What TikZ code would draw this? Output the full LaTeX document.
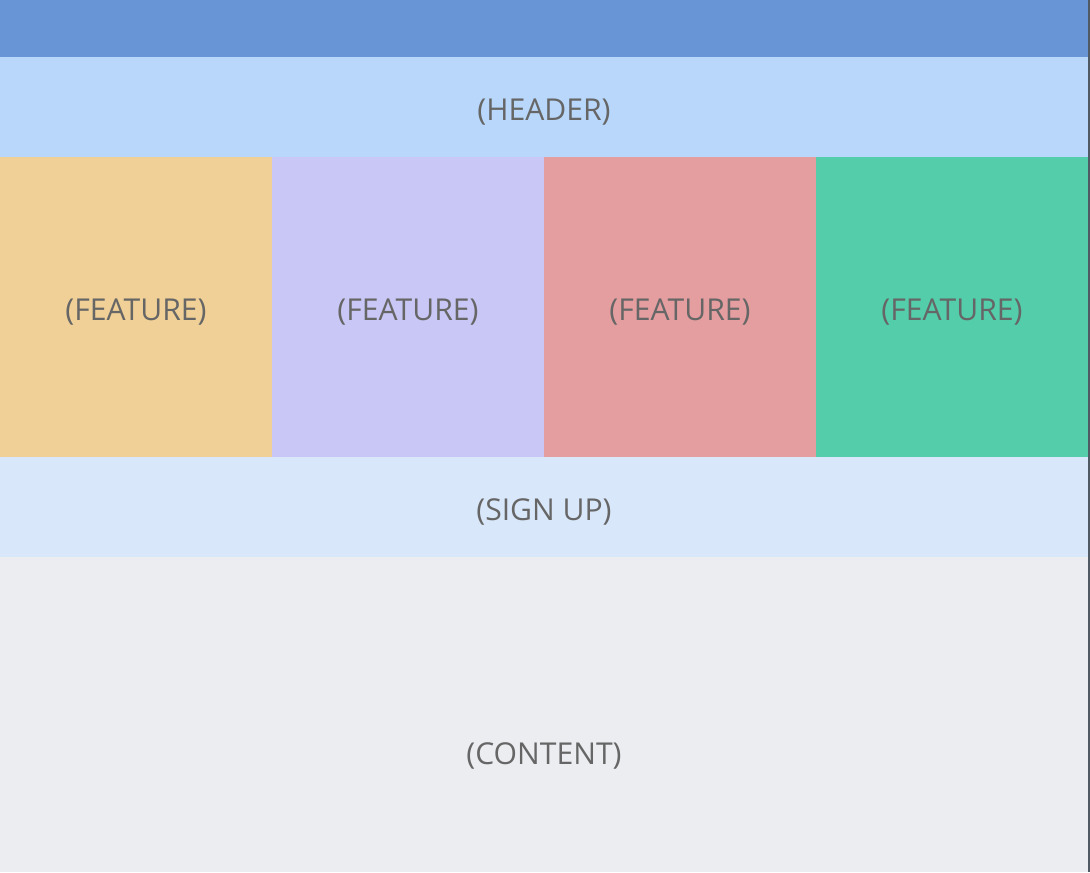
\documentclass[tikz,border=0pt]{standalone}
\usepackage{fontspec}
\setmainfont{Open Sans}
\usepackage{xcolor}
\definecolor{cTop}{HTML}{6795D6}
\definecolor{cHead}{HTML}{B8D7FA}
\definecolor{cFeatA}{HTML}{F0D096}
\definecolor{cFeatB}{HTML}{C8C7F5}
\definecolor{cFeatC}{HTML}{E59EA0}
\definecolor{cFeatD}{HTML}{53CDAA}
\definecolor{cSign}{HTML}{D8E7FA}
\definecolor{cBody}{HTML}{EBEDF1}
\definecolor{cText}{HTML}{666666}
\definecolor{cEdge}{HTML}{505A64}
\usepackage{tikz}
\usetikzlibrary{positioning}
\tikzset{
  block/.style={inner sep=0pt,outer sep=0pt,minimum width=816pt,
    text=cText,font=\fontsize{22.6}{26}\selectfont,
    text height=20.6pt,text depth=0pt},
  block-feat/.style={block,minimum width=204pt,minimum height=225pt},
}
\begin{document}
\begin{tikzpicture}[node distance=0pt]
  \useasboundingbox (0,0) rectangle (817.5pt,-654pt);
  % page strips, top to bottom
  \node[block,fill=cTop,minimum height=42.75pt,below right=0pt of {(0,0)}] (top) {};
  \node[block,fill=cHead,minimum height=75pt,below=of top] (header) {(HEADER)};
  \node[block-feat,fill=cFeatA,below right=0pt of header.south west] (featA) {(FEATURE)};
  \node[block-feat,fill=cFeatB,right=of featA] (featB) {(FEATURE)};
  \node[block-feat,fill=cFeatC,right=of featB] (featC) {(FEATURE)};
  \node[block-feat,fill=cFeatD,right=of featC] (featD) {(FEATURE)};
  \node[block,fill=cSign,minimum height=75pt,below right=0pt of featA.south west] (signup) {(SIGN UP)};
  \node[block,fill=cBody,minimum height=236.25pt,text height=74.6pt,below=of signup] (content) {(CONTENT)};
  % right frame edge
  \fill[cEdge] (816pt,0) rectangle (817.5pt,-654pt);
\end{tikzpicture}
\end{document}
